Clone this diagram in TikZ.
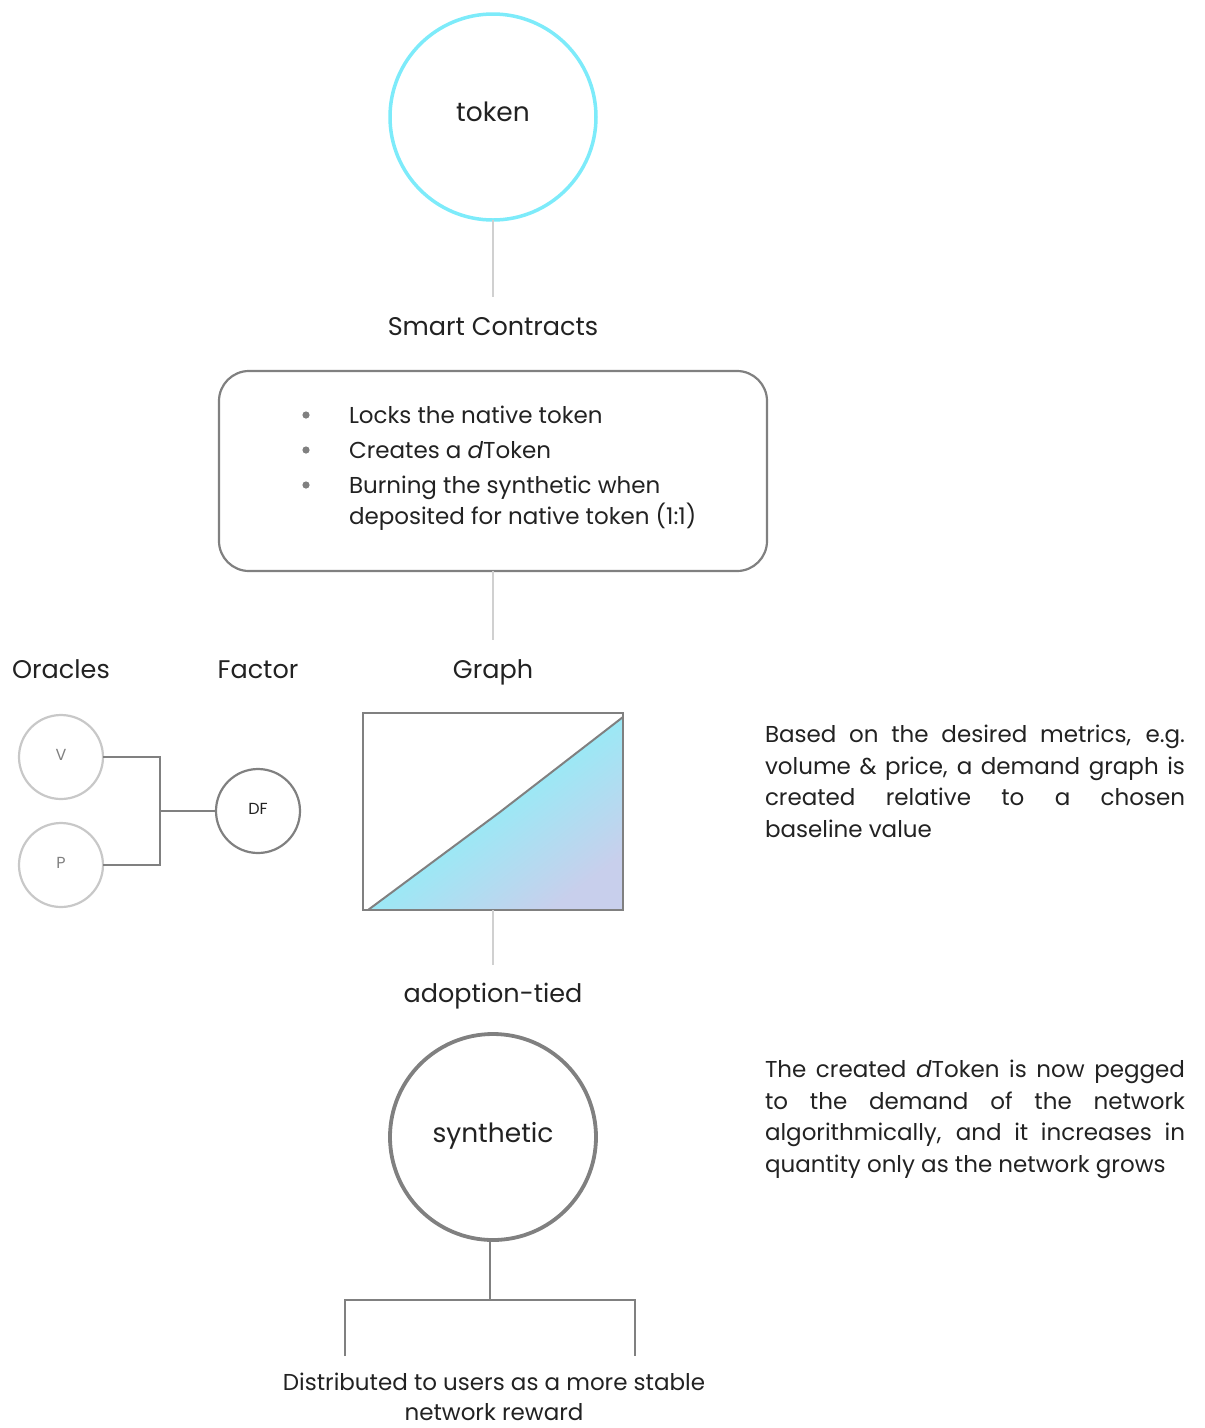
\documentclass[tikz,border=0pt]{standalone}
\usepackage{fontspec}
\setmainfont{Poppins}
\definecolor{tokcyan}{HTML}{7DEBFA}
\definecolor{txt}{HTML}{222222}
\definecolor{mgray}{HTML}{808080}
\definecolor{lgray}{HTML}{C8C8C8}
\definecolor{llgray}{HTML}{D0D0D0}
\definecolor{gA}{HTML}{9CE8F5}
\definecolor{gB}{HTML}{C8CFEC}
\begin{document}
\begin{tikzpicture}[x=1pt,y=-1pt,
  every node/.style={text=txt,inner sep=0pt,outer sep=0pt},
  big/.style={font=\fontsize{25.5}{28}\selectfont},
  body/.style={font=\fontsize{23}{31.7}\selectfont},
  small/.style={font=\fontsize{16}{18}\selectfont},
  bigcirc/.style={circle,minimum size=206pt,line width=3.5pt},
  smallcirc/.style={circle,minimum size=84pt,line width=2.2pt},
  lightline/.style={draw=llgray,line width=1.3pt},
  midline/.style={draw=mgray,line width=1.3pt},
  para/.style={body,text width=420pt,align=justify,anchor=north west}
]
\useasboundingbox (0,0) rectangle (1205,1428);

% token
\node[bigcirc,draw=tokcyan] (token) at (493,117) {};
\node[anchor=mid,font=\fontsize{26.5}{28}\selectfont] (toklab) at (493,119) {token};
\node[big,anchor=mid] (smart) at (493,333) {Smart Contracts};
\draw[lightline] (token.south) -- (493,297) coordinate (smarttop);

% contracts box
\node[draw=mgray,line width=2.2pt,rounded corners=30pt,minimum width=548pt,minimum height=200pt] (box) at (493,471) {};
\foreach \yy in {415,450,485} \fill[mgray] (306,\yy) circle (3.6pt);
\node[body,anchor=mid west] (b1) at (349,421) {Locks the native token};
\node[body,anchor=mid west] (b2) at (349,456) {Creates a \textit{d}Token};
\node[body,anchor=mid west] (b3) at (349,491) {Burning the synthetic when};
\node[body,anchor=mid west] (b4) at (349,522) {deposited for native token (1:1)};

% labels row
\node[big,anchor=mid] (orac) at (61,676) {Oracles};
\node[big,anchor=mid] (fact) at (258,676) {Factor};
\node[big,anchor=mid] (graph) at (493,676) {Graph};
\draw[lightline] (box.south) -- (493,640) coordinate (graphtop);

% oracles
\node[smallcirc,draw=lgray] (V) at (61,757) {};
\node[smallcirc,draw=lgray] (P) at (61,865) {};
\node[smallcirc,draw=mgray] (DF) at (258,811) {};
\node[small,text=mgray,anchor=mid] (Vl) at (61,758) {V};
\node[small,text=mgray,anchor=mid] (Pl) at (61,866) {P};
\node[small,anchor=mid] (DFl) at (258,812) {DF};
\coordinate (jn) at (160,811);
\draw[midline] (V.east) -| (jn) |- (P.east);
\draw[midline] (jn) -- (DF.west);

% graph
\shade[top color=gA,bottom color=gB,middle color=gA,shading angle=37] (368,910) -- (500,812) -- (623,717) -- (623,910) -- cycle;
\draw[mgray,line width=2pt,line join=round] (368,910) -- (500,812) -- (623,717);
\node[draw=mgray,line width=2.4pt,minimum width=260pt,minimum height=197pt] (grect) at (493,811.5) {};
\draw[lightline] (grect.south) -- (493,965) coordinate (adtop);
\node[big,anchor=mid] (adopt) at (493,1000) {adoption-tied};

% synthetic
\node[bigcirc,draw=mgray,line width=3.8pt] (synth) at (493,1137) {};
\node[anchor=mid,font=\fontsize{26.5}{28}\selectfont] (synlab) at (493,1140) {synthetic};
\coordinate (tj) at (490,1300);
\coordinate (tl) at (345,1356);
\coordinate (tr) at (635,1356);
\draw[midline] (synth.south) ++(-3,0) -- (tj);
\draw[midline] (tl) |- (tj) -| (tr);
\node[body,align=center,anchor=north,font=\fontsize{23}{29.5}\selectfont] (dist) at (494,1373) {Distributed to users as a more stable\\network reward};

% right paragraphs
\node[para] (p1) at (765,725) {Based on the desired metrics, e.g.\linebreak volume \& price, a demand graph is\linebreak created relative to a chosen\linebreak baseline value};
\node[para] (p2) at (765,1060) {The created \textit{d}Token is now pegged\linebreak to the demand of the network\linebreak algorithmically, and it increases in\linebreak quantity only as the network grows};
\end{tikzpicture}
\end{document}
